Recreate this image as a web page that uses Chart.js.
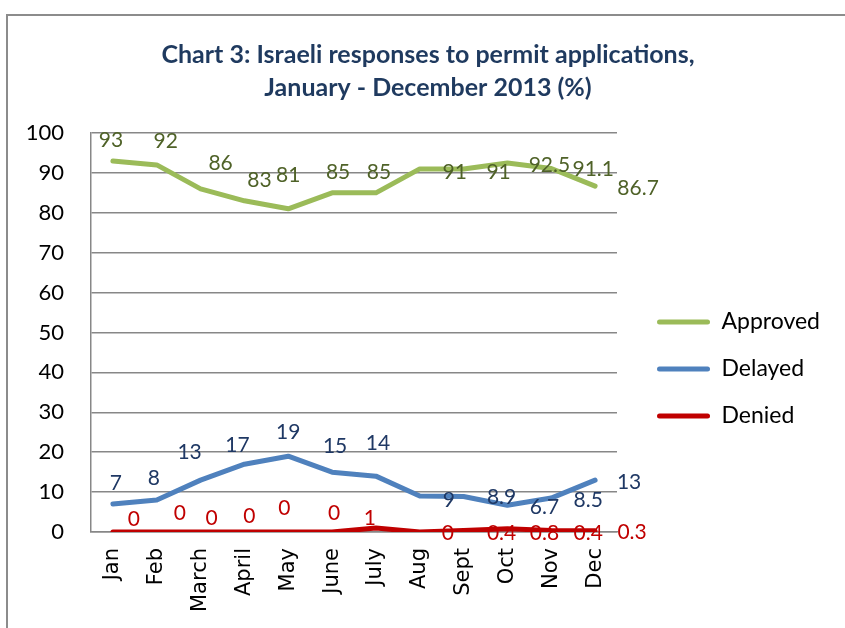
<!DOCTYPE html>
<html>
<head>
<meta charset="utf-8">
<script src="https://cdn.jsdelivr.net/npm/chart.js@4.4.0/dist/chart.umd.min.js"></script>
<style>
  html, body { margin: 0; padding: 0; background: #fff; }
  #frame { position: absolute; left: 6px; top: 14px; width: 900px; height: 700px;
           border-left: 2px solid #8c8c8c; border-top: 2px solid #8c8c8c; }
  #wrap { position: absolute; left: 0; top: 0; width: 845px; height: 628px; }
</style>
</head>
<body>
<div id="frame"></div>
<div id="wrap"><canvas id="mycanvas" width="845" height="628"></canvas></div>
<script>
var months   = ["Jan", "Feb", "March", "April", "May", "June", "July", "Aug", "Sept", "Oct", "Nov", "Dec"];
var approved = [93, 92, 86, 83, 81, 85, 85, 91, 91, 92.5, 91.1, 86.7];
var delayed  = [7, 8, 13, 17, 19, 15, 14, 9, 8.9, 6.7, 8.5, 13];
var denied   = [0, 0, 0, 0, 0, 0, 1, 0, 0.4, 0.8, 0.4, 0.3];
var yTicks   = [0, 10, 20, 30, 40, 50, 60, 70, 80, 90, 100];

// value labels, drawn next to each point (Excel put them a bit everywhere)
var pointLabels = {
  id: 'pointLabels',
  afterDatasetsDraw: function(chart, args, opts) {
    var ctx = chart.ctx;
    chart.data.datasets.forEach(function(ds, di) {
      var meta = chart.getDatasetMeta(di);
      var off = opts.offsets[di];
      ctx.save();
      ctx.font = opts.font;
      ctx.fillStyle = ds.labelColor;
      ctx.textAlign = 'center';
      ctx.textBaseline = 'middle';
      meta.data.forEach(function(pt, i) {
        ctx.fillText(String(ds.data[i]), pt.x + off.dx[i], pt.y + off.dy[i]);
      });
      ctx.restore();
    });
  }
};

var chartdata = {
  labels: months,
  datasets: [
    {
      label: "Approved",
      data: approved,
      borderColor: "#9BBB59",
      backgroundColor: "#9BBB59",
      labelColor: "#4F6228"
    },
    {
      label: "Delayed",
      data: delayed,
      borderColor: "#4F81BD",
      backgroundColor: "#4F81BD",
      labelColor: "#1F3864"
    },
    {
      label: "Denied",
      data: denied,
      borderColor: "#C00000",
      backgroundColor: "#C00000",
      labelColor: "#C00000"
    }
  ]
};

var ctx = document.getElementById("mycanvas");

var LineGraph = new Chart(ctx, {
  type: 'line',
  data: chartdata,
  plugins: [pointLabels],
  options: {
    responsive: false,
    animation: false,
    layout: { padding: { left: 26, right: 15, top: 0, bottom: 0 } },
    elements: {
      line: { borderWidth: 5, tension: 0, borderCapStyle: 'round', borderJoinStyle: 'round' },
      point: { radius: 0, hoverRadius: 0 }
    },
    scales: {
      x: {
        offset: true,
        grid: { display: false },
        border: { display: true, color: "#878787", width: 1.5 },
        ticks: {
          color: "#000",
          font: { family: "DejaVu Sans", size: 21 },
          minRotation: 90, maxRotation: 90,
          padding: 8
        },
        afterFit: function(s) { s.height = 96; }
      },
      y: {
        min: 0, max: 100,
        afterBuildTicks: function(s) { s.ticks = yTicks.map(function(v) { return { value: v }; }); },
        grid: { color: "#878787", lineWidth: 1.5, drawTicks: false },
        border: { display: true, color: "#878787", width: 1.5 },
        ticks: {
          color: "#000",
          font: { family: "Lato", size: 22 },
          padding: 27
        },
        afterFit: function(s) { s.width = 65; }
      },
      gap: {
        type: 'linear',
        position: 'right',
        display: true,
        grid: { display: false },
        border: { display: false },
        ticks: { display: false },
        afterFit: function(s) { s.width = 16; }
      }
    },
    plugins: {
      title: {
        display: true,
        text: ["Chart 3: Israeli responses to permit applications,", "January - December 2013 (%)"],
        color: "#1F3A5F",
        font: { family: "Lato", size: 25, weight: "bold", lineHeight: 1.3 },
        padding: { top: 39, bottom: 29 }
      },
      legend: {
        position: 'right',
        fullSize: false,
        maxWidth: 260,
        title: { display: true, text: ' ', font: { size: 12, lineHeight: 1 }, padding: { top: 61, bottom: 0 } },
        labels: {
          color: "#000",
          font: { family: "Lato", size: 23 },
          boxWidth: 53,
          boxHeight: 5,
          padding: 24,
          useBorderRadius: true,
          borderRadius: 2.5,
          generateLabels: function(chart) {
            return chart.data.datasets.map(function(ds, i) {
              return {
                text: ds.label,
                fillStyle: ds.borderColor,
                strokeStyle: ds.borderColor,
                lineWidth: 0,
                borderRadius: 2.5,
                fontColor: "#000",
                hidden: false,
                datasetIndex: i
              };
            });
          }
        }
      },
      tooltip: { enabled: false },
      pointLabels: {
        font: "21px Lato",
        offsets: [
          { dx: [-2, 9, 20, 15, 0, 6, 3, 35, 35, 42, 42, 43],
            dy: [-21, -24, -26, -21, -34, -21, -21, 3, 3, 2, 1, 2] },
          { dx: [3, -3, -11, -7, 0, 3, 2, 29, 38, 37, 37, 34],
            dy: [-21, -22, -28, -19, -24, -26, -33, 4, 1, 2, 2, 2] },
          { dx: [21, 23, 11, 5, -4, 2, -6, 28, 38, 37, 37, 37],
            dy: [-13, -19, -14, -16, -24, -19, -10, 1, 3, 4, 3, 1] }
        ]
      }
    }
  }
});
</script>
</body>
</html>
